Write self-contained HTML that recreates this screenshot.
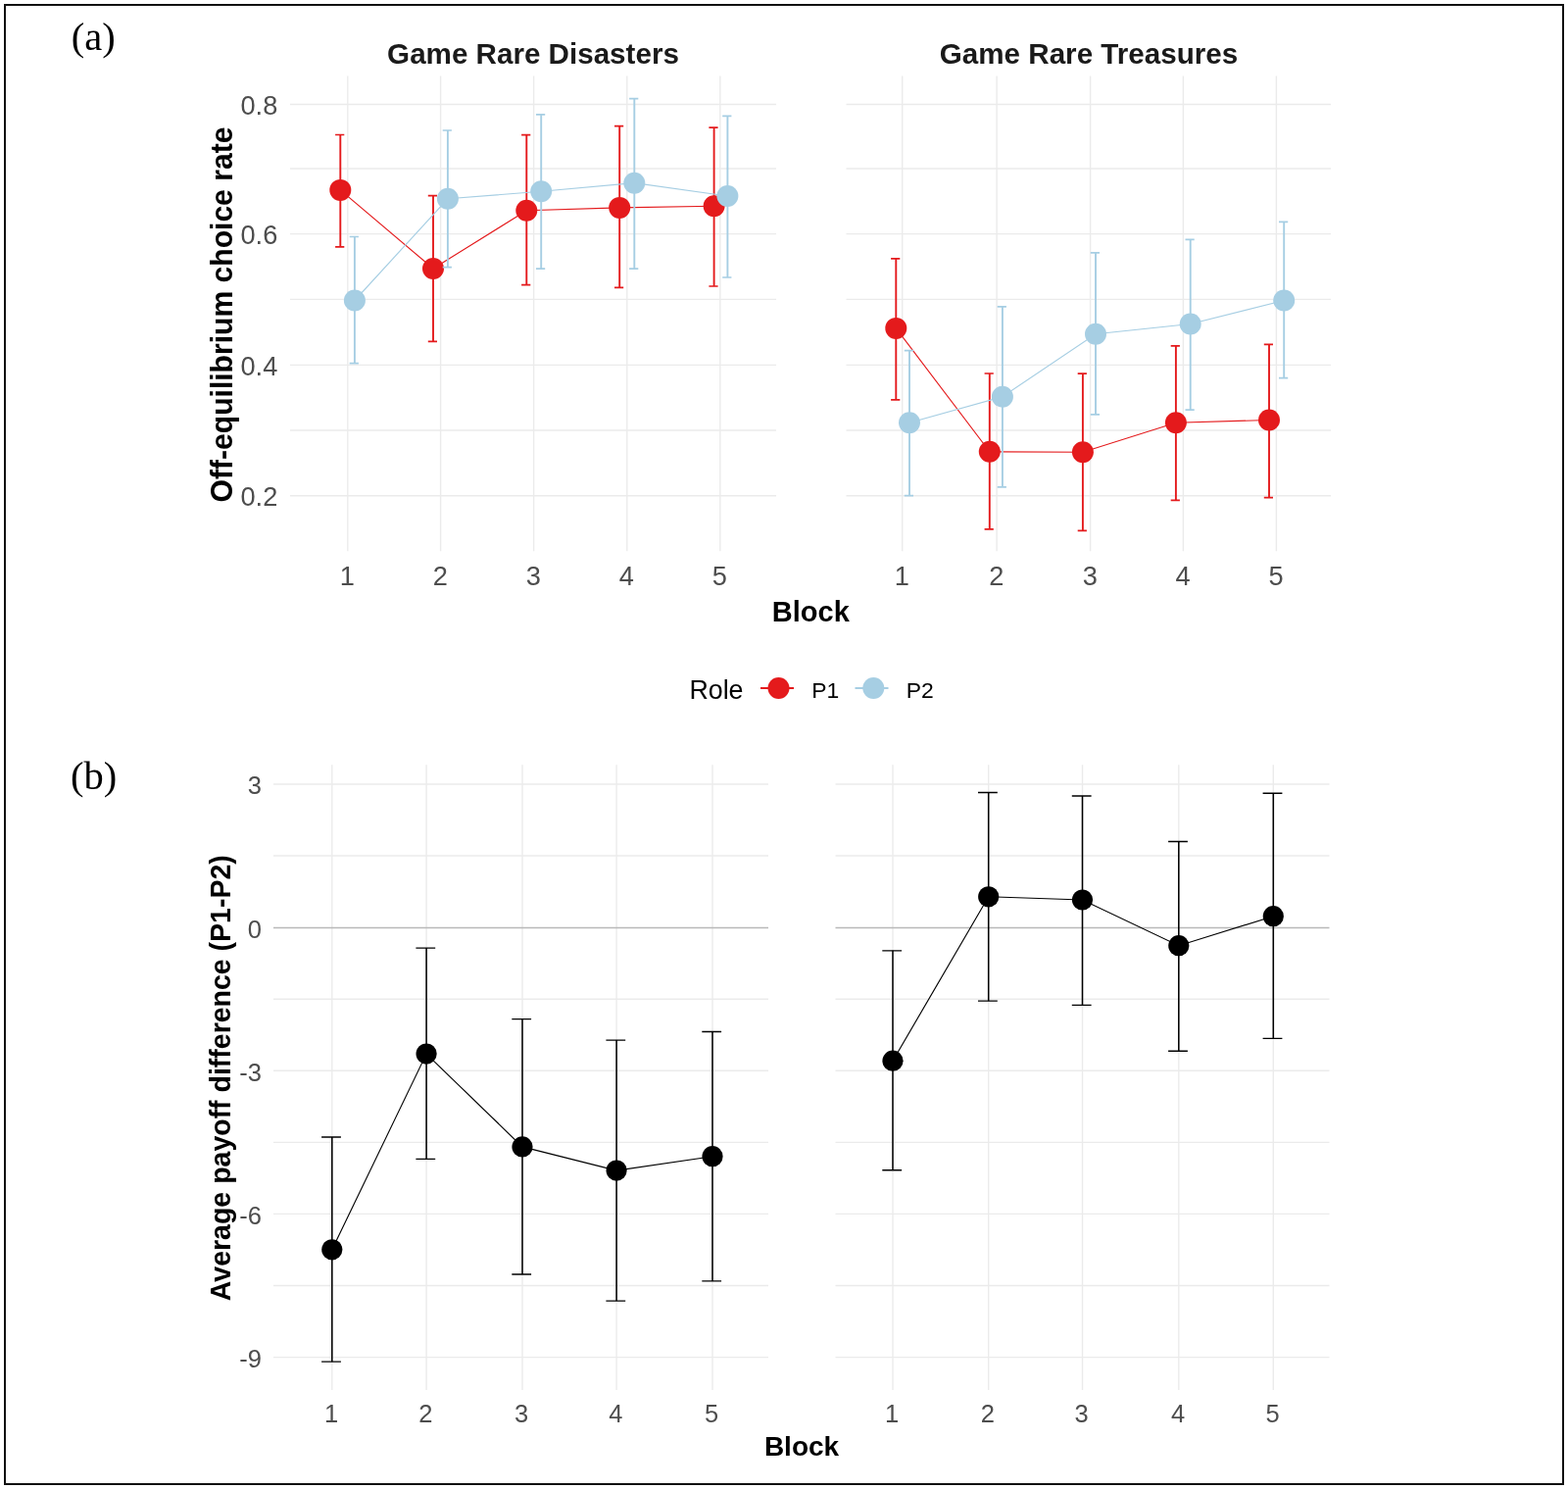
<!DOCTYPE html>
<html><head><meta charset="utf-8"><title>Figure</title>
<style>
html,body{margin:0;padding:0;background:#fff;}
body{width:1600px;height:1519px;overflow:hidden;}
svg{display:block;}
</style></head>
<body>
<svg width="1600" height="1519" viewBox="0 0 1600 1519">
<rect width="1600" height="1519" fill="#fff"/>
<line x1="296" y1="106.5" x2="792" y2="106.5" stroke="#ebebeb" stroke-width="1.4"/>
<line x1="296" y1="172.0" x2="792" y2="172.0" stroke="#ebebeb" stroke-width="1.4"/>
<line x1="296" y1="238.6" x2="792" y2="238.6" stroke="#ebebeb" stroke-width="1.4"/>
<line x1="296" y1="305.4" x2="792" y2="305.4" stroke="#ebebeb" stroke-width="1.4"/>
<line x1="296" y1="372.4" x2="792" y2="372.4" stroke="#ebebeb" stroke-width="1.4"/>
<line x1="296" y1="439.0" x2="792" y2="439.0" stroke="#ebebeb" stroke-width="1.4"/>
<line x1="296" y1="505.8" x2="792" y2="505.8" stroke="#ebebeb" stroke-width="1.4"/>
<line x1="354.8" y1="77.4" x2="354.8" y2="562.3" stroke="#ebebeb" stroke-width="1.4"/>
<line x1="449.6" y1="77.4" x2="449.6" y2="562.3" stroke="#ebebeb" stroke-width="1.4"/>
<line x1="544.6" y1="77.4" x2="544.6" y2="562.3" stroke="#ebebeb" stroke-width="1.4"/>
<line x1="639.8" y1="77.4" x2="639.8" y2="562.3" stroke="#ebebeb" stroke-width="1.4"/>
<line x1="734.8" y1="77.4" x2="734.8" y2="562.3" stroke="#ebebeb" stroke-width="1.4"/>
<line x1="863.5" y1="106.5" x2="1358" y2="106.5" stroke="#ebebeb" stroke-width="1.4"/>
<line x1="863.5" y1="172.0" x2="1358" y2="172.0" stroke="#ebebeb" stroke-width="1.4"/>
<line x1="863.5" y1="238.6" x2="1358" y2="238.6" stroke="#ebebeb" stroke-width="1.4"/>
<line x1="863.5" y1="305.4" x2="1358" y2="305.4" stroke="#ebebeb" stroke-width="1.4"/>
<line x1="863.5" y1="372.4" x2="1358" y2="372.4" stroke="#ebebeb" stroke-width="1.4"/>
<line x1="863.5" y1="439.0" x2="1358" y2="439.0" stroke="#ebebeb" stroke-width="1.4"/>
<line x1="863.5" y1="505.8" x2="1358" y2="505.8" stroke="#ebebeb" stroke-width="1.4"/>
<line x1="920.7" y1="77.4" x2="920.7" y2="562.3" stroke="#ebebeb" stroke-width="1.4"/>
<line x1="1017.1" y1="77.4" x2="1017.1" y2="562.3" stroke="#ebebeb" stroke-width="1.4"/>
<line x1="1112.6" y1="77.4" x2="1112.6" y2="562.3" stroke="#ebebeb" stroke-width="1.4"/>
<line x1="1207.4" y1="77.4" x2="1207.4" y2="562.3" stroke="#ebebeb" stroke-width="1.4"/>
<line x1="1302.4" y1="77.4" x2="1302.4" y2="562.3" stroke="#ebebeb" stroke-width="1.4"/>
<path d="M347.3,137.5V251.8" stroke="#e41a1c" stroke-width="1.9" fill="none"/>
<path d="M342.1,137.5H351.3M342.1,251.8H351.3" stroke="#e41a1c" stroke-width="1.7" fill="none"/>
<path d="M442.0,199.7V348.4" stroke="#e41a1c" stroke-width="1.9" fill="none"/>
<path d="M436.8,199.7H446.0M436.8,348.4H446.0" stroke="#e41a1c" stroke-width="1.7" fill="none"/>
<path d="M537.3,137.6V290.7" stroke="#e41a1c" stroke-width="1.9" fill="none"/>
<path d="M532.1,137.6H541.3M532.1,290.7H541.3" stroke="#e41a1c" stroke-width="1.7" fill="none"/>
<path d="M632.2,128.7V293.4" stroke="#e41a1c" stroke-width="1.9" fill="none"/>
<path d="M627.0,128.7H636.2M627.0,293.4H636.2" stroke="#e41a1c" stroke-width="1.7" fill="none"/>
<path d="M728.6,130.1V292.0" stroke="#e41a1c" stroke-width="1.9" fill="none"/>
<path d="M723.4,130.1H732.6M723.4,292.0H732.6" stroke="#e41a1c" stroke-width="1.7" fill="none"/>
<path d="M347.3,193.9 L442.0,274.0 L537.3,214.8 L632.2,211.9 L728.6,210.2" stroke="#e41a1c" stroke-width="1.15" fill="none" shape-rendering="auto"/>
<circle cx="347.3" cy="193.9" r="11.0" fill="#e41a1c" shape-rendering="auto"/>
<circle cx="442.0" cy="274.0" r="11.0" fill="#e41a1c" shape-rendering="auto"/>
<circle cx="537.3" cy="214.8" r="11.0" fill="#e41a1c" shape-rendering="auto"/>
<circle cx="632.2" cy="211.9" r="11.0" fill="#e41a1c" shape-rendering="auto"/>
<circle cx="728.6" cy="210.2" r="11.0" fill="#e41a1c" shape-rendering="auto"/>
<path d="M361.9,241.5V370.7" stroke="#a6cee3" stroke-width="1.9" fill="none"/>
<path d="M356.7,241.5H365.9M356.7,370.7H365.9" stroke="#a6cee3" stroke-width="1.7" fill="none"/>
<path d="M456.9,133.0V272.6" stroke="#a6cee3" stroke-width="1.9" fill="none"/>
<path d="M451.7,133.0H460.9M451.7,272.6H460.9" stroke="#a6cee3" stroke-width="1.7" fill="none"/>
<path d="M552.2,116.8V274.1" stroke="#a6cee3" stroke-width="1.9" fill="none"/>
<path d="M547.0,116.8H556.2M547.0,274.1H556.2" stroke="#a6cee3" stroke-width="1.7" fill="none"/>
<path d="M647.3,100.6V274.1" stroke="#a6cee3" stroke-width="1.9" fill="none"/>
<path d="M642.1,100.6H651.3M642.1,274.1H651.3" stroke="#a6cee3" stroke-width="1.7" fill="none"/>
<path d="M742.4,118.4V283.0" stroke="#a6cee3" stroke-width="1.9" fill="none"/>
<path d="M737.2,118.4H746.4M737.2,283.0H746.4" stroke="#a6cee3" stroke-width="1.7" fill="none"/>
<path d="M361.9,306.5 L456.9,202.8 L552.2,195.3 L647.3,186.7 L742.4,200.0" stroke="#a6cee3" stroke-width="1.15" fill="none" shape-rendering="auto"/>
<circle cx="361.9" cy="306.5" r="11.0" fill="#a6cee3" shape-rendering="auto"/>
<circle cx="456.9" cy="202.8" r="11.0" fill="#a6cee3" shape-rendering="auto"/>
<circle cx="552.2" cy="195.3" r="11.0" fill="#a6cee3" shape-rendering="auto"/>
<circle cx="647.3" cy="186.7" r="11.0" fill="#a6cee3" shape-rendering="auto"/>
<circle cx="742.4" cy="200.0" r="11.0" fill="#a6cee3" shape-rendering="auto"/>
<path d="M914.3,263.9V407.8" stroke="#e41a1c" stroke-width="1.9" fill="none"/>
<path d="M909.1,263.9H918.3M909.1,407.8H918.3" stroke="#e41a1c" stroke-width="1.7" fill="none"/>
<path d="M1009.8,381.0V539.8" stroke="#e41a1c" stroke-width="1.9" fill="none"/>
<path d="M1004.6,381.0H1013.8M1004.6,539.8H1013.8" stroke="#e41a1c" stroke-width="1.7" fill="none"/>
<path d="M1104.9,381.2V541.4" stroke="#e41a1c" stroke-width="1.9" fill="none"/>
<path d="M1099.7,381.2H1108.9M1099.7,541.4H1108.9" stroke="#e41a1c" stroke-width="1.7" fill="none"/>
<path d="M1199.9,352.9V510.3" stroke="#e41a1c" stroke-width="1.9" fill="none"/>
<path d="M1194.7,352.9H1203.9M1194.7,510.3H1203.9" stroke="#e41a1c" stroke-width="1.7" fill="none"/>
<path d="M1295.0,351.4V507.6" stroke="#e41a1c" stroke-width="1.9" fill="none"/>
<path d="M1289.8,351.4H1299.0M1289.8,507.6H1299.0" stroke="#e41a1c" stroke-width="1.7" fill="none"/>
<path d="M914.3,334.9 L1009.8,460.8 L1104.9,461.2 L1199.9,431.3 L1295.0,428.5" stroke="#e41a1c" stroke-width="1.15" fill="none" shape-rendering="auto"/>
<circle cx="914.3" cy="334.9" r="11.0" fill="#e41a1c" shape-rendering="auto"/>
<circle cx="1009.8" cy="460.8" r="11.0" fill="#e41a1c" shape-rendering="auto"/>
<circle cx="1104.9" cy="461.2" r="11.0" fill="#e41a1c" shape-rendering="auto"/>
<circle cx="1199.9" cy="431.3" r="11.0" fill="#e41a1c" shape-rendering="auto"/>
<circle cx="1295.0" cy="428.5" r="11.0" fill="#e41a1c" shape-rendering="auto"/>
<path d="M928.0,357.6V505.7" stroke="#a6cee3" stroke-width="1.9" fill="none"/>
<path d="M922.8,357.6H932.0M922.8,505.7H932.0" stroke="#a6cee3" stroke-width="1.7" fill="none"/>
<path d="M1022.9,312.9V496.9" stroke="#a6cee3" stroke-width="1.9" fill="none"/>
<path d="M1017.7,312.9H1026.9M1017.7,496.9H1026.9" stroke="#a6cee3" stroke-width="1.7" fill="none"/>
<path d="M1118.0,257.8V422.9" stroke="#a6cee3" stroke-width="1.9" fill="none"/>
<path d="M1112.8,257.8H1122.0M1112.8,422.9H1122.0" stroke="#a6cee3" stroke-width="1.7" fill="none"/>
<path d="M1214.7,244.4V418.2" stroke="#a6cee3" stroke-width="1.9" fill="none"/>
<path d="M1209.5,244.4H1218.7M1209.5,418.2H1218.7" stroke="#a6cee3" stroke-width="1.7" fill="none"/>
<path d="M1310.2,226.4V385.6" stroke="#a6cee3" stroke-width="1.9" fill="none"/>
<path d="M1305.0,226.4H1314.2M1305.0,385.6H1314.2" stroke="#a6cee3" stroke-width="1.7" fill="none"/>
<path d="M928.0,431.2 L1022.9,404.7 L1118.0,340.8 L1214.7,330.5 L1310.2,306.5" stroke="#a6cee3" stroke-width="1.15" fill="none" shape-rendering="auto"/>
<circle cx="928.0" cy="431.2" r="11.0" fill="#a6cee3" shape-rendering="auto"/>
<circle cx="1022.9" cy="404.7" r="11.0" fill="#a6cee3" shape-rendering="auto"/>
<circle cx="1118.0" cy="340.8" r="11.0" fill="#a6cee3" shape-rendering="auto"/>
<circle cx="1214.7" cy="330.5" r="11.0" fill="#a6cee3" shape-rendering="auto"/>
<circle cx="1310.2" cy="306.5" r="11.0" fill="#a6cee3" shape-rendering="auto"/>
<text x="283.3" y="116.8" font-family="'Liberation Sans', Arial, sans-serif" font-size="27.2" font-weight="normal" fill="#4d4d4d" text-anchor="end">0.8</text>
<text x="283.3" y="248.9" font-family="'Liberation Sans', Arial, sans-serif" font-size="27.2" font-weight="normal" fill="#4d4d4d" text-anchor="end">0.6</text>
<text x="283.3" y="382.7" font-family="'Liberation Sans', Arial, sans-serif" font-size="27.2" font-weight="normal" fill="#4d4d4d" text-anchor="end">0.4</text>
<text x="283.3" y="516.1" font-family="'Liberation Sans', Arial, sans-serif" font-size="27.2" font-weight="normal" fill="#4d4d4d" text-anchor="end">0.2</text>
<text x="354.40000000000003" y="597.3" font-family="'Liberation Sans', Arial, sans-serif" font-size="27.2" font-weight="normal" fill="#4d4d4d" text-anchor="middle">1</text>
<text x="449.20000000000005" y="597.3" font-family="'Liberation Sans', Arial, sans-serif" font-size="27.2" font-weight="normal" fill="#4d4d4d" text-anchor="middle">2</text>
<text x="544.2" y="597.3" font-family="'Liberation Sans', Arial, sans-serif" font-size="27.2" font-weight="normal" fill="#4d4d4d" text-anchor="middle">3</text>
<text x="639.4" y="597.3" font-family="'Liberation Sans', Arial, sans-serif" font-size="27.2" font-weight="normal" fill="#4d4d4d" text-anchor="middle">4</text>
<text x="734.4" y="597.3" font-family="'Liberation Sans', Arial, sans-serif" font-size="27.2" font-weight="normal" fill="#4d4d4d" text-anchor="middle">5</text>
<text x="920.3000000000001" y="597.3" font-family="'Liberation Sans', Arial, sans-serif" font-size="27.2" font-weight="normal" fill="#4d4d4d" text-anchor="middle">1</text>
<text x="1016.7" y="597.3" font-family="'Liberation Sans', Arial, sans-serif" font-size="27.2" font-weight="normal" fill="#4d4d4d" text-anchor="middle">2</text>
<text x="1112.1999999999998" y="597.3" font-family="'Liberation Sans', Arial, sans-serif" font-size="27.2" font-weight="normal" fill="#4d4d4d" text-anchor="middle">3</text>
<text x="1207.0" y="597.3" font-family="'Liberation Sans', Arial, sans-serif" font-size="27.2" font-weight="normal" fill="#4d4d4d" text-anchor="middle">4</text>
<text x="1302.0" y="597.3" font-family="'Liberation Sans', Arial, sans-serif" font-size="27.2" font-weight="normal" fill="#4d4d4d" text-anchor="middle">5</text>
<text x="544.0" y="65.0" font-family="'Liberation Sans', Arial, sans-serif" font-size="29.6" font-weight="bold" fill="#1a1a1a" text-anchor="middle">Game Rare Disasters</text>
<text x="1111.0" y="65.0" font-family="'Liberation Sans', Arial, sans-serif" font-size="29.6" font-weight="bold" fill="#1a1a1a" text-anchor="middle">Game Rare Treasures</text>
<text x="827.3" y="634.2" font-family="'Liberation Sans', Arial, sans-serif" font-size="29.0" font-weight="bold" fill="#000" text-anchor="middle">Block</text>
<text x="0" y="0" transform="translate(236.8,321) rotate(-90) scale(1,1.045)" font-family="'Liberation Sans', Arial, sans-serif" font-size="30.1" font-weight="bold" fill="#000" text-anchor="middle">Off-equilibrium choice rate</text>
<text x="703.4" y="712.8" font-family="'Liberation Sans', Arial, sans-serif" font-size="26.8" font-weight="normal" fill="#000" text-anchor="start">Role</text>
<line x1="776" y1="702" x2="810" y2="702" stroke="#e41a1c" stroke-width="1.9"/>
<circle cx="794.5" cy="702" r="11" fill="#e41a1c"/>
<text x="828.3" y="711.9" font-family="'Liberation Sans', Arial, sans-serif" font-size="22.9" font-weight="normal" fill="#000" text-anchor="start">P1</text>
<line x1="872.5" y1="702" x2="906.5" y2="702" stroke="#a6cee3" stroke-width="1.9"/>
<circle cx="891.3" cy="702" r="11" fill="#a6cee3"/>
<text x="924.8" y="711.9" font-family="'Liberation Sans', Arial, sans-serif" font-size="22.9" font-weight="normal" fill="#000" text-anchor="start">P2</text>
<line x1="279" y1="799.94" x2="784" y2="799.94" stroke="#ebebeb" stroke-width="1.4"/>
<line x1="279" y1="873.02" x2="784" y2="873.02" stroke="#ebebeb" stroke-width="1.4"/>
<line x1="279" y1="1019.18" x2="784" y2="1019.18" stroke="#ebebeb" stroke-width="1.4"/>
<line x1="279" y1="1092.26" x2="784" y2="1092.26" stroke="#ebebeb" stroke-width="1.4"/>
<line x1="279" y1="1165.34" x2="784" y2="1165.34" stroke="#ebebeb" stroke-width="1.4"/>
<line x1="279" y1="1238.42" x2="784" y2="1238.42" stroke="#ebebeb" stroke-width="1.4"/>
<line x1="279" y1="1311.5" x2="784" y2="1311.5" stroke="#ebebeb" stroke-width="1.4"/>
<line x1="279" y1="1384.58" x2="784" y2="1384.58" stroke="#ebebeb" stroke-width="1.4"/>
<line x1="338.8" y1="780.3" x2="338.8" y2="1418" stroke="#ebebeb" stroke-width="1.4"/>
<line x1="435.1" y1="780.3" x2="435.1" y2="1418" stroke="#ebebeb" stroke-width="1.4"/>
<line x1="533.0" y1="780.3" x2="533.0" y2="1418" stroke="#ebebeb" stroke-width="1.4"/>
<line x1="629.1" y1="780.3" x2="629.1" y2="1418" stroke="#ebebeb" stroke-width="1.4"/>
<line x1="727.0" y1="780.3" x2="727.0" y2="1418" stroke="#ebebeb" stroke-width="1.4"/>
<line x1="279" y1="946.5" x2="784" y2="946.5" stroke="#b9b9b9" stroke-width="1.3"/>
<line x1="852.5" y1="799.94" x2="1356.5" y2="799.94" stroke="#ebebeb" stroke-width="1.4"/>
<line x1="852.5" y1="873.02" x2="1356.5" y2="873.02" stroke="#ebebeb" stroke-width="1.4"/>
<line x1="852.5" y1="1019.18" x2="1356.5" y2="1019.18" stroke="#ebebeb" stroke-width="1.4"/>
<line x1="852.5" y1="1092.26" x2="1356.5" y2="1092.26" stroke="#ebebeb" stroke-width="1.4"/>
<line x1="852.5" y1="1165.34" x2="1356.5" y2="1165.34" stroke="#ebebeb" stroke-width="1.4"/>
<line x1="852.5" y1="1238.42" x2="1356.5" y2="1238.42" stroke="#ebebeb" stroke-width="1.4"/>
<line x1="852.5" y1="1311.5" x2="1356.5" y2="1311.5" stroke="#ebebeb" stroke-width="1.4"/>
<line x1="852.5" y1="1384.58" x2="1356.5" y2="1384.58" stroke="#ebebeb" stroke-width="1.4"/>
<line x1="911.0" y1="780.3" x2="911.0" y2="1418" stroke="#ebebeb" stroke-width="1.4"/>
<line x1="1008.7" y1="780.3" x2="1008.7" y2="1418" stroke="#ebebeb" stroke-width="1.4"/>
<line x1="1104.5" y1="780.3" x2="1104.5" y2="1418" stroke="#ebebeb" stroke-width="1.4"/>
<line x1="1202.8" y1="780.3" x2="1202.8" y2="1418" stroke="#ebebeb" stroke-width="1.4"/>
<line x1="1299.3" y1="780.3" x2="1299.3" y2="1418" stroke="#ebebeb" stroke-width="1.4"/>
<line x1="852.5" y1="946.5" x2="1356.5" y2="946.5" stroke="#b9b9b9" stroke-width="1.3"/>
<path d="M338.8,1160.0V1389.1" stroke="#000" stroke-width="1.55" fill="none"/>
<path d="M328.1,1160.0H347.9M328.1,1389.1H347.9" stroke="#000" stroke-width="1.35" fill="none"/>
<path d="M435.1,967.1V1182.3" stroke="#000" stroke-width="1.55" fill="none"/>
<path d="M424.4,967.1H444.2M424.4,1182.3H444.2" stroke="#000" stroke-width="1.35" fill="none"/>
<path d="M533.0,1039.6V1300.0" stroke="#000" stroke-width="1.55" fill="none"/>
<path d="M522.3,1039.6H542.1M522.3,1300.0H542.1" stroke="#000" stroke-width="1.35" fill="none"/>
<path d="M629.1,1061.1V1327.1" stroke="#000" stroke-width="1.55" fill="none"/>
<path d="M618.4,1061.1H638.2M618.4,1327.1H638.2" stroke="#000" stroke-width="1.35" fill="none"/>
<path d="M727.0,1052.5V1306.9" stroke="#000" stroke-width="1.55" fill="none"/>
<path d="M716.3,1052.5H736.1M716.3,1306.9H736.1" stroke="#000" stroke-width="1.35" fill="none"/>
<path d="M338.8,1274.8 L435.1,1075.1 L533.0,1169.9 L629.1,1194.1 L727.0,1179.7" stroke="#000" stroke-width="1.15" fill="none" shape-rendering="auto"/>
<circle cx="338.8" cy="1274.8" r="10.6" fill="#000" shape-rendering="auto"/>
<circle cx="435.1" cy="1075.1" r="10.6" fill="#000" shape-rendering="auto"/>
<circle cx="533.0" cy="1169.9" r="10.6" fill="#000" shape-rendering="auto"/>
<circle cx="629.1" cy="1194.1" r="10.6" fill="#000" shape-rendering="auto"/>
<circle cx="727.0" cy="1179.7" r="10.6" fill="#000" shape-rendering="auto"/>
<path d="M911.0,969.8V1193.7" stroke="#000" stroke-width="1.55" fill="none"/>
<path d="M900.3,969.8H920.1M900.3,1193.7H920.1" stroke="#000" stroke-width="1.35" fill="none"/>
<path d="M1008.7,808.5V1021.1" stroke="#000" stroke-width="1.55" fill="none"/>
<path d="M998.0,808.5H1017.8M998.0,1021.1H1017.8" stroke="#000" stroke-width="1.35" fill="none"/>
<path d="M1104.5,812.0V1025.4" stroke="#000" stroke-width="1.55" fill="none"/>
<path d="M1093.8,812.0H1113.6M1093.8,1025.4H1113.6" stroke="#000" stroke-width="1.35" fill="none"/>
<path d="M1202.8,858.5V1072.2" stroke="#000" stroke-width="1.55" fill="none"/>
<path d="M1192.1,858.5H1211.9M1192.1,1072.2H1211.9" stroke="#000" stroke-width="1.35" fill="none"/>
<path d="M1299.3,809.2V1059.3" stroke="#000" stroke-width="1.55" fill="none"/>
<path d="M1288.6,809.2H1308.4M1288.6,1059.3H1308.4" stroke="#000" stroke-width="1.35" fill="none"/>
<path d="M911.0,1082.2 L1008.7,914.8 L1104.5,918.0 L1202.8,964.7 L1299.3,934.7" stroke="#000" stroke-width="1.15" fill="none" shape-rendering="auto"/>
<circle cx="911.0" cy="1082.2" r="10.6" fill="#000" shape-rendering="auto"/>
<circle cx="1008.7" cy="914.8" r="10.6" fill="#000" shape-rendering="auto"/>
<circle cx="1104.5" cy="918.0" r="10.6" fill="#000" shape-rendering="auto"/>
<circle cx="1202.8" cy="964.7" r="10.6" fill="#000" shape-rendering="auto"/>
<circle cx="1299.3" cy="934.7" r="10.6" fill="#000" shape-rendering="auto"/>
<text x="267.0" y="810.44" font-family="'Liberation Sans', Arial, sans-serif" font-size="25.5" font-weight="normal" fill="#4d4d4d" text-anchor="end">3</text>
<text x="267.0" y="956.6" font-family="'Liberation Sans', Arial, sans-serif" font-size="25.5" font-weight="normal" fill="#4d4d4d" text-anchor="end">0</text>
<text x="267.0" y="1102.76" font-family="'Liberation Sans', Arial, sans-serif" font-size="25.5" font-weight="normal" fill="#4d4d4d" text-anchor="end">-3</text>
<text x="267.0" y="1248.92" font-family="'Liberation Sans', Arial, sans-serif" font-size="25.5" font-weight="normal" fill="#4d4d4d" text-anchor="end">-6</text>
<text x="267.0" y="1395.08" font-family="'Liberation Sans', Arial, sans-serif" font-size="25.5" font-weight="normal" fill="#4d4d4d" text-anchor="end">-9</text>
<text x="338.0" y="1450.9" font-family="'Liberation Sans', Arial, sans-serif" font-size="25.5" font-weight="normal" fill="#4d4d4d" text-anchor="middle">1</text>
<text x="434.3" y="1450.9" font-family="'Liberation Sans', Arial, sans-serif" font-size="25.5" font-weight="normal" fill="#4d4d4d" text-anchor="middle">2</text>
<text x="532.2" y="1450.9" font-family="'Liberation Sans', Arial, sans-serif" font-size="25.5" font-weight="normal" fill="#4d4d4d" text-anchor="middle">3</text>
<text x="628.3000000000001" y="1450.9" font-family="'Liberation Sans', Arial, sans-serif" font-size="25.5" font-weight="normal" fill="#4d4d4d" text-anchor="middle">4</text>
<text x="726.2" y="1450.9" font-family="'Liberation Sans', Arial, sans-serif" font-size="25.5" font-weight="normal" fill="#4d4d4d" text-anchor="middle">5</text>
<text x="910.2" y="1450.9" font-family="'Liberation Sans', Arial, sans-serif" font-size="25.5" font-weight="normal" fill="#4d4d4d" text-anchor="middle">1</text>
<text x="1007.9000000000001" y="1450.9" font-family="'Liberation Sans', Arial, sans-serif" font-size="25.5" font-weight="normal" fill="#4d4d4d" text-anchor="middle">2</text>
<text x="1103.7" y="1450.9" font-family="'Liberation Sans', Arial, sans-serif" font-size="25.5" font-weight="normal" fill="#4d4d4d" text-anchor="middle">3</text>
<text x="1202.0" y="1450.9" font-family="'Liberation Sans', Arial, sans-serif" font-size="25.5" font-weight="normal" fill="#4d4d4d" text-anchor="middle">4</text>
<text x="1298.5" y="1450.9" font-family="'Liberation Sans', Arial, sans-serif" font-size="25.5" font-weight="normal" fill="#4d4d4d" text-anchor="middle">5</text>
<text x="818.0" y="1484.9" font-family="'Liberation Sans', Arial, sans-serif" font-size="28.0" font-weight="bold" fill="#000" text-anchor="middle">Block</text>
<text x="0" y="0" transform="translate(234.7,1099.7) rotate(-90) scale(1,1.06)" font-family="'Liberation Sans', Arial, sans-serif" font-size="28.5" font-weight="bold" fill="#000" text-anchor="middle">Average payoff difference (P1-P2)</text>
<text x="72.8" y="51.0" font-family="'Liberation Serif', 'Times New Roman', serif" font-size="40.5" font-weight="normal" fill="#000" text-anchor="start">(a)</text>
<text x="71.9" y="805.0" font-family="'Liberation Serif', 'Times New Roman', serif" font-size="40.5" font-weight="normal" fill="#000" text-anchor="start">(b)</text>
<rect x="5" y="5" width="1590" height="1509" fill="none" stroke="#111" stroke-width="2"/>
</svg>
</body></html>
